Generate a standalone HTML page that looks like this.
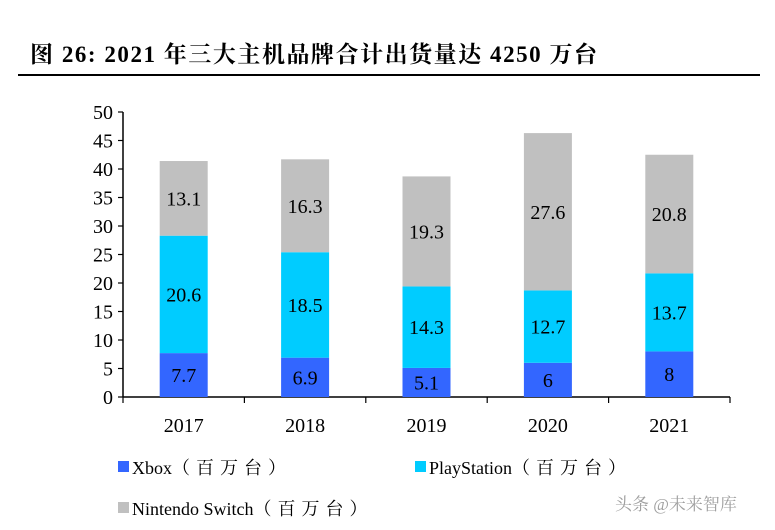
<!DOCTYPE html>
<html><head><meta charset="utf-8"><style>
html,body{margin:0;padding:0;background:#fff;}
svg{display:block;}
text{font-family:"Liberation Serif","Noto Serif CJK SC",serif;}
</style></head><body>
<svg id="chart" width="775" height="530" viewBox="0 0 775 530">
<text x="30" y="62" font-size="23" font-weight="bold" fill="#000" textLength="567" lengthAdjust="spacing">图 26:  2021 年三大主机品牌合计出货量达 4250 万台</text>
<line x1="18" y1="75" x2="760" y2="75" stroke="#000" stroke-width="2"/>
<g id="plot"></g>
<text x="615" y="510" font-size="17" fill="#888" opacity="0.8" font-family="Liberation Sans,Noto Sans CJK SC,sans-serif">头条 @未来智库</text>
</svg>
<script>
const categories=["2017","2018","2019","2020","2021"];
const xbox=[7.7,6.9,5.1,6,8];
const playstation=[20.6,18.5,14.3,12.7,13.7];
const nintendo=[13.1,16.3,19.3,27.6,20.8];
const yTicks=[0,5,10,15,20,25,30,35,40,45,50];
const seriesNames=["Xbox","PlayStation","Nintendo Switch"];
const unitLabel="（百万台）";
const colors=["#3366ff","#00ccff","#c0c0c0"];

const NS="http://www.w3.org/2000/svg";
const g=document.getElementById('plot');
const x0=123,y0=397,xw=121.4,ppu=5.7,bw=48;
const Y=v=>y0-v*ppu;
const Xc=i=>x0+xw*(i+0.5);
function mk(t,a,p){const e=document.createElementNS(NS,t);for(const k in a)e.setAttribute(k,a[k]);(p||g).appendChild(e);return e;}

let e;
e=mk('line',{x1:x0,y1:Y(50),x2:x0,y2:y0,stroke:'#000','stroke-width':1.5});


e=mk('line',{x1:x0,y1:y0,x2:x0+xw*categories.length,y2:y0,stroke:'#000','stroke-width':1.5});


yTicks.forEach(v=>{
  e=mk('line',{x1:x0-5,y1:Y(v),x2:x0,y2:Y(v),stroke:'#000','stroke-width':1.2});
  
  
  e=mk('text',{x:x0-10,y:Y(v)+7,'text-anchor':'end','font-size':20});
  e.textContent=v;
  
  
});
for(let i=0;i<=categories.length;i++){
  e=mk('line',{x1:x0+xw*i,y1:y0,x2:x0+xw*i,y2:y0+6,stroke:'#000','stroke-width':1.2});
  
  
}
const series=[xbox,playstation,nintendo];
categories.forEach((c,i)=>{
  let base=0;
  series.forEach((s,k)=>{
    const v=s[i];
    e=mk('rect',{x:Xc(i)-bw/2,y:Y(base+v),width:bw,height:v*ppu,fill:colors[k]});
    
    
    e=mk('text',{x:Xc(i),y:Y(base+v/2)+7,'text-anchor':'middle','font-size':20});
    e.textContent=v;
    
    
    base+=v;
  });
  e=mk('text',{x:Xc(i),y:432,'text-anchor':'middle','font-size':20});
  e.textContent=c;
  
  
});
const legPos=[[118,467],[415,467],[118,508]];
seriesNames.forEach((n,k)=>{
  const [lx,ly]=legPos[k];
  e=mk('rect',{x:lx,y:ly-6,width:11,height:11,fill:colors[k]});
  
  
  e=mk('text',{x:lx+14,y:ly+7,'font-size':18});
  
  
  const t1=mk('tspan',{},e); t1.textContent=n;
  const t2=mk('tspan',{'letter-spacing':6},e); t2.textContent=unitLabel;
});
</script>
</body></html>
